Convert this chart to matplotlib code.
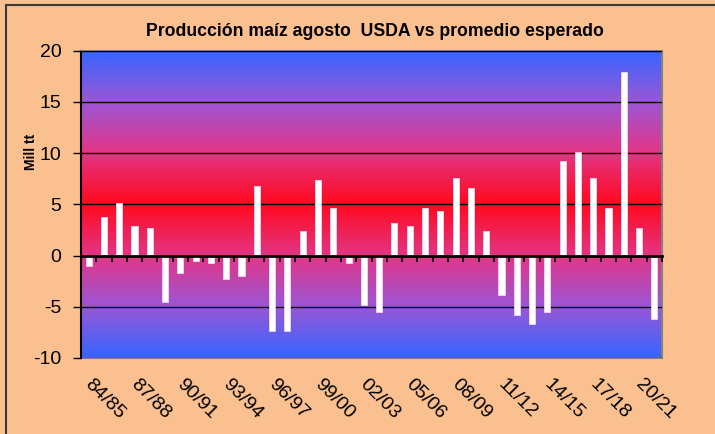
import matplotlib.pyplot as plt
import numpy as np
from matplotlib.colors import LinearSegmentedColormap
from matplotlib.patches import Rectangle
from matplotlib.transforms import ScaledTranslation

plt.rcParams['font.family'] = ['Liberation Sans', 'DejaVu Sans']
plt.rcParams['axes.unicode_minus'] = False

seasons = ["84/85", "85/86", "86/87", "87/88", "88/89", "89/90", "90/91", "91/92",
           "92/93", "93/94", "94/95", "95/96", "96/97", "97/98", "98/99", "99/00",
           "00/01", "01/02", "02/03", "03/04", "04/05", "05/06", "06/07", "07/08",
           "08/09", "09/10", "10/11", "11/12", "12/13", "13/14", "14/15", "15/16",
           "16/17", "17/18", "18/19", "19/20", "20/21", "21/22"]
diff = [-1.0, 3.8, 5.1, 2.9, 2.7, -4.5, -1.7, -0.5, -0.7, -2.3, -2.0, 6.8,
        -7.4, -7.4, 2.4, 7.4, 4.6, -0.7, -4.8, -5.5, 3.2, 2.9, 4.6, 4.3,
        7.6, 6.6, 2.4, -3.9, -5.8, -6.7, -5.5, 9.2, 10.1, 7.6, 4.6, 17.9,
        2.7, -6.2]
label_step = 3

x = np.arange(len(seasons))

fig = plt.figure(figsize=(7.15, 4.34), dpi=100, facecolor='#FAC090')
ax = fig.add_axes([81 / 715, 1 - 358 / 434, 581 / 715, 307.5 / 434])

# fondo degradado azul-rojo-azul
cmap = LinearSegmentedColormap.from_list(
    'grad', [(0.0, '#3366FF'), (0.33, '#9A56D6'), (0.66, '#E23688'), (1.0, '#FF0A1E')])
g = np.concatenate([np.linspace(0, 1, 128), np.linspace(1, 0, 128)]).reshape(-1, 1)
ax.imshow(g, cmap=cmap, aspect='auto', extent=(-0.5, len(x) - 0.5, -10, 20),
          zorder=0, interpolation='bicubic')

ax.bar(x, diff, width=0.4, color='white', edgecolor='#EBD6F2', linewidth=0.6, zorder=3)

ax.set_xlim(-0.5, len(x) - 0.5)
ax.set_ylim(-10, 20)
ax.set_yticks(np.arange(-10, 21, 5))
ax.yaxis.grid(True, color='black', linewidth=1)
ax.set_axisbelow(False)
ax.tick_params(axis='y', direction='out', length=6, width=1, labelsize=14, pad=8)

# eje de categorías en cero
ax.spines['bottom'].set_position(('data', 0))
ax.spines['bottom'].set_linewidth(2)
ax.spines['bottom'].set_zorder(4)
ax.set_xticks([])
ax.set_xticks(np.arange(len(x) + 1) - 0.5, minor=True)
ax.tick_params(axis='x', which='minor', direction='out', length=4, width=1.2)
ax.spines['left'].set_linewidth(1.5)
for s in ['top', 'right']:
    ax.spines[s].set_color('#808080')
    ax.spines[s].set_linewidth(1.5)

sec = ax.secondary_xaxis('bottom')
sec.set_xticks(x[::label_step])
sec.set_xticklabels(seasons[::label_step], rotation=-45, ha='left', va='top',
                    rotation_mode='anchor', fontsize=14)
sec.tick_params(length=0, pad=13)
sec.spines['bottom'].set_color('#808080')
sec.spines['bottom'].set_linewidth(1.5)
offset = ScaledTranslation(5 / 100, 0, fig.dpi_scale_trans)
for lab in sec.get_xticklabels():
    lab.set_transform(lab.get_transform() + offset)

fig.text(0.524, 1 - 31 / 434, 'Producción maíz agosto  USDA vs promedio esperado',
         ha='center', va='center', fontsize=12.7, fontweight='bold')
fig.text(31 / 715, 1 - 152 / 434, 'Mill tt', rotation=90, ha='center', va='center',
         fontsize=10, fontweight='bold')

fig.patches.append(Rectangle((6 / 715, -0.1), 2, 1.1 - 5 / 434, transform=fig.transFigure,
                             fill=False, edgecolor='#3a3a3a', linewidth=1.5))

fig.savefig('out.png', dpi=100, facecolor=fig.get_facecolor())
